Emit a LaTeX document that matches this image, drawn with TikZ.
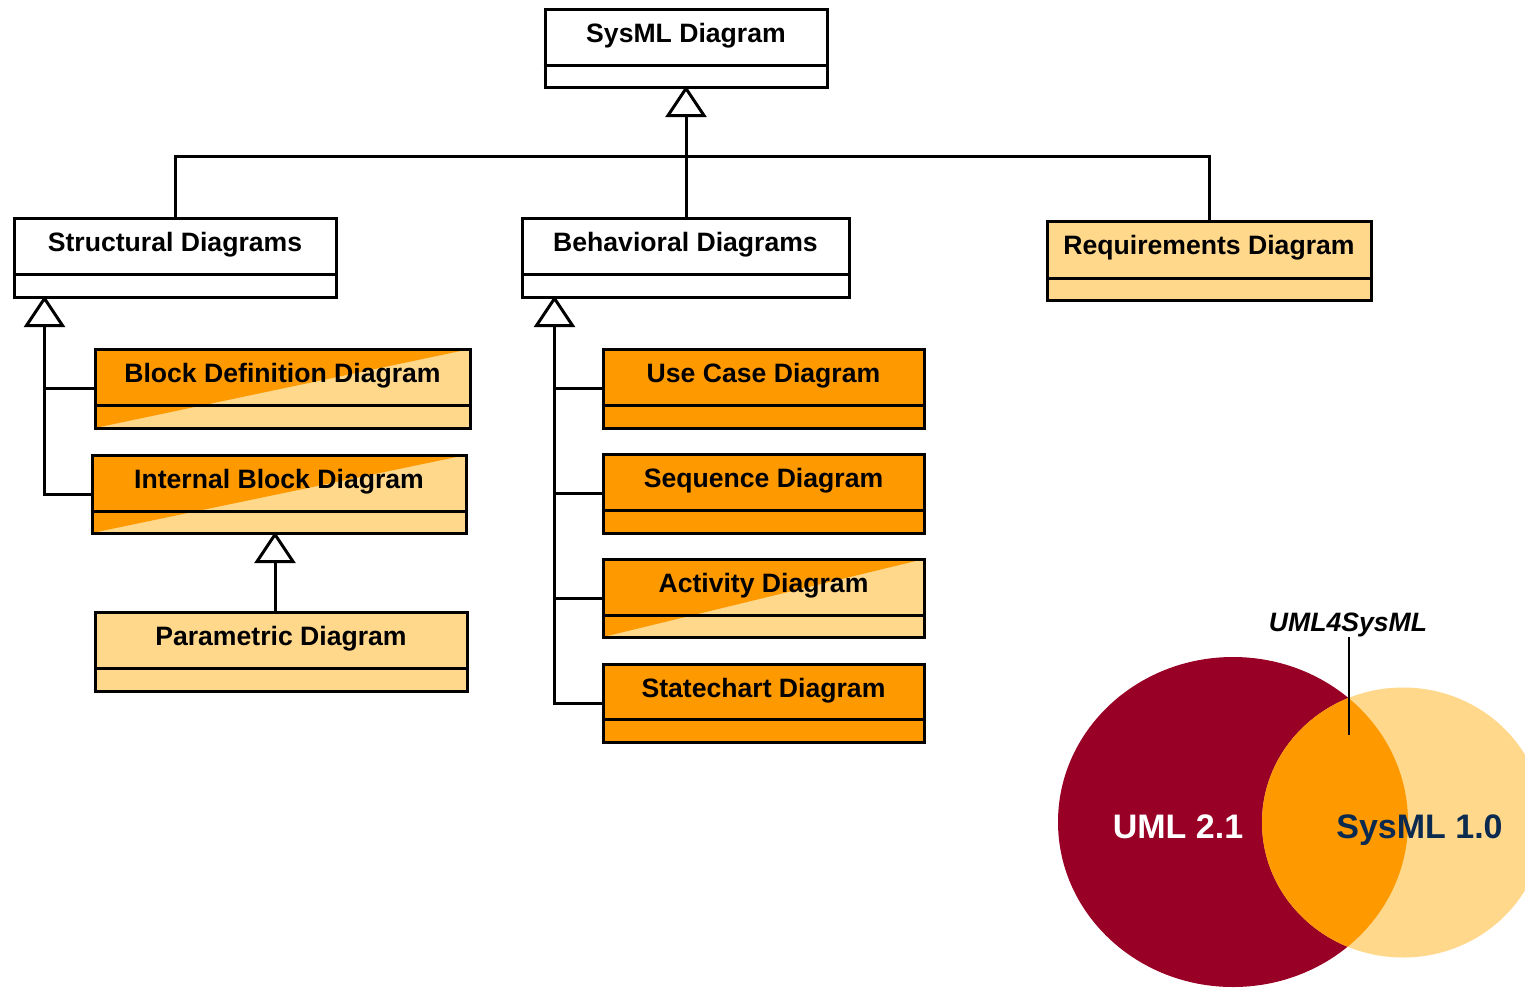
\documentclass[tikz,border=0pt]{standalone}
\usepackage{fontspec}
\setmainfont{Liberation Sans}
\usetikzlibrary{calc}

\definecolor{sysorange}{HTML}{FF9900}
\definecolor{syslight}{HTML}{FFD88C}
\definecolor{umlred}{HTML}{990026}
\definecolor{sysnavy}{HTML}{0B2A4F}

\tikzset{
  line/.style={line width=3pt, draw=black},
  classbox/.style={line, rectangle, inner sep=0pt},
  plainfill/.style={fill=white},
  lightfill/.style={fill=syslight},
  orangefill/.style={fill=sysorange},
  splitfill/.style={fill=syslight,
    path picture={\fill[sysorange] (path picture bounding box.north west)
      -- (path picture bounding box.north east)
      -- (path picture bounding box.south west) -- cycle;}},
  title/.style={font=\fontsize{26.6}{32}\selectfont\bfseries, inner sep=0pt, anchor=base},
  venntext/.style={font=\fontsize{34}{40}\selectfont\bfseries, inner sep=0pt, anchor=base},
}

% horizontal line between the name and attribute compartments
\newcommand\classdivider[2]{\draw[line] ([yshift=#2]#1.south west) -- ([yshift=#2]#1.south east);}
% open triangle of a generalization, apex at the given coordinate
\newcommand\genhead[1]{\draw[line, fill=white, line join=miter] (#1) -- ++(-18,27) -- ++(36,0) -- cycle;}

\begin{document}
\begin{tikzpicture}[x=1pt, y=-1pt]
\useasboundingbox (0,0) rectangle (1525,988);

% ---- class boxes ----
\node[classbox, plainfill,  minimum width=282pt, minimum height=78pt] (sys) at (686,48) {};
\node[classbox, plainfill,  minimum width=322pt, minimum height=79pt] (str) at (175,257.5) {};
\node[classbox, plainfill,  minimum width=327pt, minimum height=79pt] (beh) at (685.5,257.5) {};
\node[classbox, lightfill,  minimum width=324pt, minimum height=79pt] (req) at (1209,260.5) {};
\node[classbox, splitfill,  minimum width=375pt, minimum height=79pt] (bdd) at (282.5,388.5) {};
\node[classbox, splitfill,  minimum width=374pt, minimum height=78pt] (ibd) at (279,494) {};
\node[classbox, lightfill,  minimum width=372pt, minimum height=79pt] (par) at (281,651.5) {};
\node[classbox, orangefill, minimum width=321pt, minimum height=79pt] (uc)  at (763.5,388.5) {};
\node[classbox, orangefill, minimum width=321pt, minimum height=79pt] (seq) at (763.5,493.5) {};
\node[classbox, splitfill,  minimum width=321pt, minimum height=78pt] (act) at (763.5,598) {};
\node[classbox, orangefill, minimum width=321pt, minimum height=78pt] (st)  at (763.5,703) {};

\classdivider{sys}{23pt}
\classdivider{str}{24pt}
\classdivider{beh}{24pt}
\classdivider{req}{23pt}
\classdivider{bdd}{24pt}
\classdivider{ibd}{23pt}
\classdivider{par}{24pt}
\classdivider{uc}{24pt}
\classdivider{seq}{24pt}
\classdivider{act}{23pt}
\classdivider{st}{24pt}

\node[title] (sys-t) at ([yshift=-35pt]sys.north) {SysML Diagram};
\node[title] (str-t) at ([yshift=-35pt]str.north) {Structural Diagrams};
\node[title] (beh-t) at ([yshift=-35pt]beh.north) {Behavioral Diagrams};
\node[title] (req-t) at ([yshift=-35pt]req.north) {Requirements Diagram};
\node[title] (bdd-t) at ([yshift=-35pt]bdd.north) {Block Definition Diagram};
\node[title] (ibd-t) at ([yshift=-35pt]ibd.north) {Internal Block Diagram};
\node[title] (par-t) at ([yshift=-35pt]par.north) {Parametric Diagram};
\node[title] (uc-t)  at ([yshift=-35pt]uc.north)  {Use Case Diagram};
\node[title] (seq-t) at ([yshift=-35pt]seq.north) {Sequence Diagram};
\node[title] (act-t) at ([yshift=-35pt]act.north) {Activity Diagram};
\node[title] (st-t)  at ([yshift=-35pt]st.north)  {Statechart Diagram};

% ---- generalizations ----
\coordinate (hub) at (686,156);
\coordinate (strhead) at ([xshift=32pt]str.south west);
\coordinate (behhead) at ([xshift=34pt]beh.south west);
\coordinate (ibdhead) at (ibd.south -| 275,0);

\draw[line] (sys.south) -- (sys.south |- beh.north);
\draw[line] (str.north) |- (hub) -| (req.north);

\draw[line] (strhead) |- (ibd.west);
\draw[line] (strhead |- bdd.west) -- (bdd.west);

\draw[line] (behhead) |- (st.west);
\draw[line] (behhead |- uc.west) -- (uc.west);
\draw[line] (behhead |- seq.west) -- (seq.west);
\draw[line] (behhead |- act.west) -- (act.west);

\draw[line] (ibdhead |- par.north) -- (ibdhead);

\genhead{sys.south}
\genhead{strhead}
\genhead{behhead}
\genhead{ibdhead}

% ---- language overlap ----
\fill[umlred] (1233,822) ellipse [x radius=175, y radius=165];
\fill[syslight] (1403,822.5) ellipse [x radius=141, y radius=135];
\begin{scope}
  \clip (1233,822) ellipse [x radius=175, y radius=165];
  \fill[sysorange] (1403,822.5) ellipse [x radius=141, y radius=135];
\end{scope}

\node[venntext, text=white] (uml) at (1178,838) {UML 2.1};
\node[venntext, text=sysnavy] (sysml) at (1419.5,838) {SysML 1.0};
\node[title, font=\fontsize{26.6}{32}\selectfont\bfseries\itshape] (u4s) at (1348,631) {UML4SysML};
\coordinate (ovl) at (1349,735);
\draw[line width=2pt] (ovl |- u4s.south) -- (ovl);

\end{tikzpicture}
\end{document}
